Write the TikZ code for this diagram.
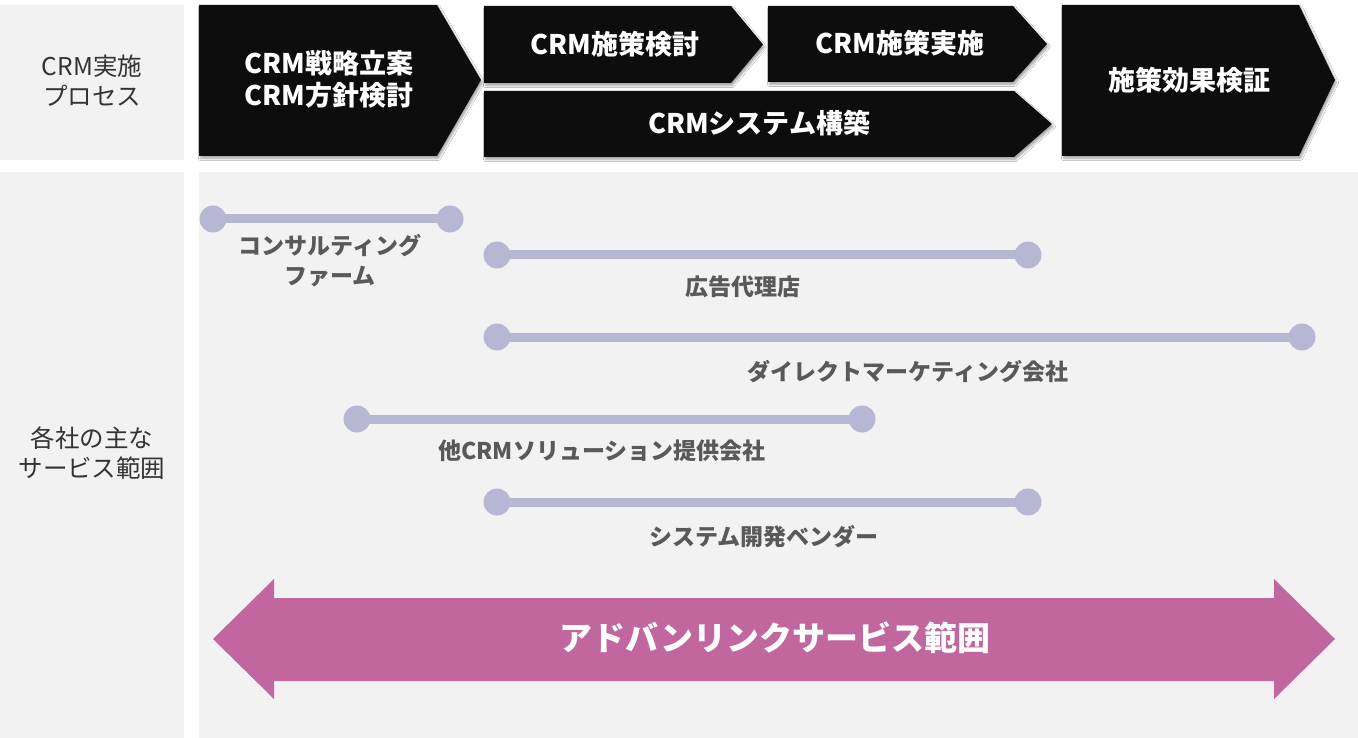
\documentclass[tikz,border=0pt]{standalone}
\usepackage{fontspec}
\setmainfont{Noto Sans CJK JP}
\usetikzlibrary{shadows.blur}
\definecolor{chev}{HTML}{0D0D0D}
\definecolor{panel}{HTML}{F2F2F2}
\definecolor{bar}{HTML}{B7B6D3}
\definecolor{pinkarrow}{HTML}{C1669F}
\definecolor{labeltext}{HTML}{595959}
\definecolor{sidetext}{HTML}{333333}
\begin{document}
\begin{tikzpicture}[x=1pt,y=-1pt,
  chevron/.style={fill=chev, blur shadow={shadow xshift=1.5pt,shadow yshift=-2.5pt,shadow opacity=35,shadow blur steps=6,shadow blur radius=2pt}},
  chevtext/.style={text=white, font=\fontsize{27}{32}\selectfont\bfseries, align=center, inner sep=0pt},
  sidelabel/.style={text=sidetext, font=\fontsize{24.5}{30}\selectfont, align=center, inner sep=0pt},
  dot/.style={circle, fill=bar, minimum size=27pt, inner sep=0pt},
  barline/.style={draw=bar, line width=9pt},
  barlabel/.style={text=labeltext, font=\fontsize{23}{30}\selectfont\bfseries, align=center, inner sep=0pt},
  bigtext/.style={text=white, font=\fontsize{33}{38}\selectfont\bfseries, inner sep=0pt}]
\useasboundingbox (0,0) rectangle (1358,738);
\fill[white] (0,0) rectangle (1358,738);
% panels
\fill[panel] (0,5) rectangle (184,160);
\fill[panel] (0,172) rectangle (184,738);
\fill[panel] (199,172) rectangle (1358,738);
% side labels
\node[sidelabel] (proc) at (92,81) {CRM実施\\プロセス};
\node[sidelabel] (scope) at (92,453) {各社の主な\\サービス範囲};
% chevrons
\fill[chevron] (199,5) -- (437,5) -- (481,80) -- (437,156) -- (199,156) -- cycle;
\fill[chevron] (484,6) -- (731,6) -- (763,44.5) -- (731,83) -- (484,83) -- cycle;
\fill[chevron] (768,6) -- (1013,6) -- (1047,44) -- (1013,82) -- (768,82) -- cycle;
\fill[chevron] (484,91) -- (1014,91) -- (1052,124) -- (1014,157) -- (484,157) -- cycle;
\fill[chevron] (1062,5) -- (1299,5) -- (1335,80) -- (1299,156) -- (1062,156) -- cycle;
\node[chevtext] (t1) at (329,79) {CRM戦略立案\\CRM方針検討};
\node[chevtext] (t2) at (615,44) {CRM施策検討};
\node[chevtext] (t3) at (900,43) {CRM施策実施};
\node[chevtext] (t4) at (759,123) {CRMシステム構築};
\node[chevtext] (t5) at (1189,80) {施策効果検証};
% service bars
\node[dot] (c1a) at (213,219) {}; \node[dot] (c1b) at (450,219) {};
\draw[barline] (c1a.center) -- (c1b.center);
\node[dot] (c2a) at (497,255) {}; \node[dot] (c2b) at (1028,255) {};
\draw[barline] (c2a.center) -- (c2b.center);
\node[dot] (c3a) at (497,337) {}; \node[dot] (c3b) at (1302,337) {};
\draw[barline] (c3a.center) -- (c3b.center);
\node[dot] (c4a) at (357,419) {}; \node[dot] (c4b) at (862,419) {};
\draw[barline] (c4a.center) -- (c4b.center);
\node[dot] (c5a) at (497,502) {}; \node[dot] (c5b) at (1028,502) {};
\draw[barline] (c5a.center) -- (c5b.center);
\node[barlabel] (l1) at (330,261) {コンサルティング\\ファーム};
\node[barlabel] (l2) at (743,287) {広告代理店};
\node[barlabel] (l3) at (908,372) {ダイレクトマーケティング会社};
\node[barlabel] (l4) at (602,451) {他CRMソリューション提供会社};
\node[barlabel] (l5) at (764,537) {システム開発ベンダー};
% big double arrow
\fill[pinkarrow] (213,639) -- (274,579) -- (274,598) -- (1274,598) -- (1274,579) -- (1335,639) -- (1274,699) -- (1274,681) -- (274,681) -- (274,699) -- cycle;
\node[bigtext] (adv) at (775,638) {アドバンリンクサービス範囲};
\end{tikzpicture}
\end{document}
